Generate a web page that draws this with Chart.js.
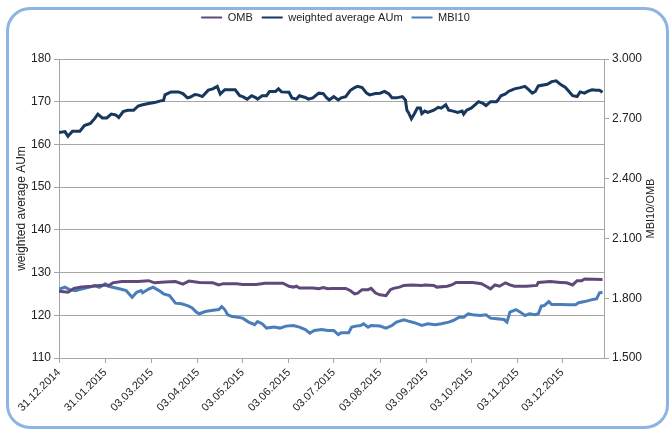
<!DOCTYPE html>
<html>
<head>
<meta charset="utf-8">
<script src="https://cdn.jsdelivr.net/npm/chart.js@4"></script>
<style>
    body { margin: 0; background: #fff; }
    #card {
        position: absolute; left: 6px; top: 7px; width: 657px; height: 416px;
        border: 3px solid #8db4e3; border-radius: 24px; background: #fff;
    }
    #chart { position: absolute; left: 0; top: 0; }
</style>
</head>
<body>
<div id="card"></div>
<canvas id="chart" width="671" height="431"></canvas>
<script>
// x values are days counted from 31.12.2014
const tickDays = [0, 31, 62, 93, 123, 154, 184, 215, 246, 276, 307, 337];
const tickLabels = ["31.12.2014", "31.01.2015", "03.03.2015", "03.04.2015", "03.05.2015", "03.06.2015",
    "03.07.2015", "03.08.2015", "03.09.2015", "03.10.2015", "03.11.2015", "03.12.2015"];

const wavgDays = [0, 4, 6, 9, 14, 17, 21, 24, 26, 29, 32, 35, 38, 40, 43, 46, 50, 53, 56, 60, 64, 68, 70, 71,
    75, 80, 83, 86, 88, 91, 93, 96, 100, 103, 106, 108, 111, 118, 121, 123, 126, 129, 132, 133, 136, 139, 141,
    145, 147, 149, 154, 156, 159, 161, 165, 167, 170, 174, 177, 179, 181, 184, 187, 189, 192, 195, 198, 200,
    203, 206, 208, 212, 215, 218, 221, 223, 226, 230, 232, 233, 234, 236, 238, 240, 242, 243, 245, 247, 251,
    254, 256, 259, 261, 264, 267, 270, 271, 273, 276, 279, 281, 284, 286, 289, 293, 294, 296, 299, 301, 305,
    309, 312, 314, 317, 319, 321, 327, 330, 333, 336, 339, 341, 344, 347, 349, 352, 354, 357, 360, 362, 364];
const wavgVals = [162.8, 163.0, 161.9, 163.1, 163.1, 164.4, 164.9, 166.1, 167.1, 166.2, 166.2, 167.1, 166.9,
    166.3, 167.7, 168.0, 168.0, 169.0, 169.3, 169.6, 169.8, 170.2, 170.3, 171.6, 172.3, 172.3, 171.9, 170.9,
    171.1, 171.7, 171.6, 171.2, 172.7, 173.0, 173.6, 171.8, 172.8, 172.8, 171.4, 171.2, 170.6, 171.4, 170.9,
    170.6, 171.4, 171.4, 172.4, 172.4, 173.0, 172.3, 172.2, 170.9, 170.6, 171.4, 171.0, 170.6, 170.9, 172.0,
    171.9, 171.0, 170.4, 171.2, 170.4, 170.9, 171.2, 172.6, 173.3, 173.6, 173.3, 172.0, 171.6, 171.9, 172.0,
    172.4, 171.8, 170.9, 170.9, 171.2, 170.4, 168.0, 167.5, 166.0, 167.2, 168.5, 168.5, 167.2, 167.8, 167.5,
    168.0, 168.7, 168.5, 169.3, 168.0, 167.8, 167.5, 167.8, 167.1, 168.0, 168.5, 169.4, 170.0, 169.6, 169.1,
    170.0, 170.0, 170.4, 171.4, 171.8, 172.4, 173.0, 173.3, 173.6, 173.0, 172.0, 172.4, 173.7, 174.1, 174.7,
    174.9, 174.0, 173.4, 172.6, 171.4, 171.2, 172.3, 172.0, 172.4, 172.8, 172.7, 172.7, 172.2];

const ombDays = [0, 6, 10, 15, 22, 27, 34, 36, 42, 53, 60, 64, 71, 78, 83, 87, 94, 103, 107, 110, 119, 123,
    132, 138, 150, 154, 157, 159, 161, 170, 174, 177, 180, 183, 192, 195, 198, 200, 203, 207, 209, 212, 215,
    219, 222, 224, 228, 231, 236, 243, 245, 251, 253, 260, 263, 266, 271, 277, 283, 286, 289, 292, 295, 299,
    302, 305, 313, 320, 321, 329, 336, 340, 344, 347, 350, 352, 364];
const ombVals = [125.6, 125.4, 126.3, 126.6, 126.8, 127.0, 127.1, 127.6, 127.9, 127.9, 128.1, 127.6, 127.8,
    127.9, 127.3, 128.0, 127.7, 127.6, 127.1, 127.4, 127.4, 127.2, 127.2, 127.5, 127.5, 126.8, 126.6, 126.8,
    126.4, 126.4, 126.2, 126.5, 126.2, 126.3, 126.3, 125.8, 125.0, 125.2, 126.0, 126.0, 126.3, 125.2, 124.8,
    124.6, 126.0, 126.3, 126.6, 127.0, 127.1, 127.0, 127.1, 127.0, 126.6, 126.8, 127.1, 127.7, 127.7, 127.7,
    127.4, 126.8, 126.2, 127.1, 126.8, 127.6, 127.1, 126.8, 126.8, 127.0, 127.7, 127.9, 127.7, 127.6, 127.1,
    128.1, 128.1, 128.5, 128.4];

const mbiDays = [0, 4, 7, 11, 15, 20, 24, 27, 31, 33, 36, 41, 45, 49, 52, 55, 56, 60, 63, 67, 70, 74, 78, 82,
    86, 89, 92, 94, 98, 102, 107, 109, 111, 113, 116, 119, 123, 127, 131, 133, 136, 139, 144, 148, 152, 157,
    161, 165, 168, 171, 176, 180, 184, 187, 189, 194, 196, 199, 202, 204, 207, 209, 215, 219, 223, 226, 231,
    234, 238, 243, 247, 252, 256, 261, 264, 268, 271, 274, 277, 282, 286, 289, 293, 298, 300, 302, 306, 309,
    312, 315, 319, 321, 323, 325, 328, 330, 336, 342, 346, 348, 352, 357, 360, 362, 364];
const mbiVals = [1846, 1855, 1843, 1838, 1846, 1855, 1863, 1855, 1872, 1860, 1855, 1846, 1838, 1805, 1830,
    1838, 1827, 1846, 1855, 1838, 1822, 1813, 1775, 1772, 1763, 1752, 1730, 1722, 1733, 1738, 1743, 1758,
    1743, 1717, 1708, 1705, 1700, 1680, 1667, 1683, 1672, 1650, 1655, 1650, 1660, 1663, 1655, 1643, 1625,
    1638, 1643, 1638, 1638, 1617, 1627, 1627, 1655, 1660, 1663, 1672, 1655, 1663, 1660, 1650, 1663, 1680,
    1692, 1685, 1677, 1663, 1672, 1667, 1672, 1680, 1688, 1705, 1705, 1722, 1717, 1713, 1717, 1700, 1697,
    1693, 1680, 1730, 1743, 1730, 1713, 1722, 1717, 1722, 1760, 1763, 1783, 1768, 1768, 1767, 1767, 1777,
    1783, 1793, 1797, 1827, 1830];

const rightTitle = "MBI10/OMB";

function toPoints(days, vals) {
    return days.map((d, i) => ({ x: d, y: vals[i] }));
}

const FONT = "'Liberation Sans', Arial, sans-serif";
const GRID = "#a6a6a6";

// legend takes some extra room below it
const legendSpace = {
    id: "legendSpace",
    beforeInit(chart) {
        const fit = chart.legend.fit;
        chart.legend.fit = function () {
            fit.call(this);
            this.height += 26;
        };
    }
};

// right axis title reads bottom to top, like the left one
const rightAxisTitle = {
    id: "rightAxisTitle",
    afterDraw(chart) {
        const { ctx, chartArea } = chart;
        ctx.save();
        ctx.translate(651, (chartArea.top + chartArea.bottom) / 2);
        ctx.rotate(-Math.PI / 2);
        ctx.font = "11px " + FONT;
        ctx.fillStyle = "#222";
        ctx.textAlign = "center";
        ctx.textBaseline = "middle";
        ctx.fillText(rightTitle, 0, 0);
        ctx.restore();
    }
};

new Chart(document.getElementById("chart"), {
    type: "line",
    data: {
        datasets: [{
            label: "OMB",
            data: toPoints(ombDays, ombVals),
            borderColor: "#5f497a",
            backgroundColor: "#5f497a",
            yAxisID: "y"
        }, {
            label: "weighted average AUm",
            data: toPoints(wavgDays, wavgVals),
            borderColor: "#17375e",
            backgroundColor: "#17375e",
            yAxisID: "y"
        }, {
            label: "MBI10",
            data: toPoints(mbiDays, mbiVals),
            borderColor: "#4a7ebb",
            backgroundColor: "#4a7ebb",
            yAxisID: "y1"
        }]
    },
    options: {
        responsive: false,
        animation: false,
        layout: { padding: { left: 10, right: 10, top: 3, bottom: 0 } },
        elements: {
            point: { radius: 0 },
            line: { borderWidth: 3, tension: 0 }
        },
        plugins: {
            tooltip: { enabled: false },
            legend: {
                position: "top",
                labels: {
                    font: { family: FONT, size: 11 },
                    color: "#222",
                    boxWidth: 21,
                    boxHeight: 2,
                    padding: 9,
                    generateLabels(chart) {
                        const items = Chart.defaults.plugins.legend.labels.generateLabels(chart);
                        items.forEach(it => { it.lineWidth = 0; });
                        return items;
                    }
                }
            }
        },
        scales: {
            x: {
                type: "linear",
                min: 0,
                max: 365,
                afterBuildTicks(axis) {
                    axis.ticks = tickDays.map(v => ({ value: v }));
                },
                afterFit(axis) { axis.height = 73; },
                ticks: {
                    autoSkip: false,
                    maxRotation: 45,
                    minRotation: 45,
                    font: { family: FONT, size: 11 },
                    color: "#222",
                    callback: v => tickLabels[tickDays.indexOf(v)]
                },
                grid: { drawOnChartArea: false, color: GRID, tickLength: 5 },
                border: { color: GRID }
            },
            y: {
                position: "left",
                min: 110,
                max: 180,
                afterFit(axis) { axis.width = 49; },
                ticks: {
                    stepSize: 10,
                    font: { family: FONT, size: 12 },
                    color: "#222"
                },
                grid: { color: GRID, tickLength: 5 },
                border: { color: GRID },
                title: {
                    display: true,
                    text: "weighted average AUm",
                    font: { family: FONT, size: 12 },
                    color: "#222",
                    padding: 4
                }
            },
            y1: {
                position: "right",
                min: 1500,
                max: 3000,
                afterFit(axis) { axis.width = 57; },
                ticks: {
                    stepSize: 300,
                    font: { family: FONT, size: 12 },
                    color: "#222",
                    callback: v => (v / 1000).toFixed(3)
                },
                grid: { drawOnChartArea: false, color: GRID, tickLength: 5 },
                border: { color: GRID }
            }
        }
    },
    plugins: [legendSpace, rightAxisTitle]
});
</script>
</body>
</html>
